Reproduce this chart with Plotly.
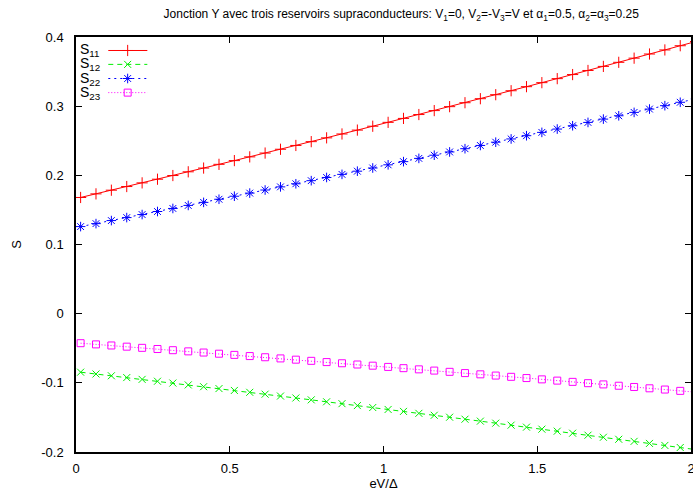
import numpy as np
import plotly.graph_objects as go

# eV/Delta sampling (last point lies just past the frame and is clipped)
x_vals = np.round(0.015 + 0.05 * np.arange(41), 3)

s11 = [0.1680, 0.1732, 0.1785, 0.1838, 0.1891, 0.1944, 0.1997, 0.2051, 0.2105, 0.2159,
       0.2213, 0.2267, 0.2322, 0.2377, 0.2432, 0.2487, 0.2542, 0.2598, 0.2654, 0.2710,
       0.2766, 0.2823, 0.2879, 0.2936, 0.2993, 0.3050, 0.3108, 0.3166, 0.3223, 0.3282,
       0.3340, 0.3398, 0.3457, 0.3516, 0.3575, 0.3634, 0.3694, 0.3754, 0.3813, 0.3874,
       0.3934]
s12 = [-0.0846, -0.0872, -0.0898, -0.0924, -0.0950, -0.0977, -0.1003, -0.1030, -0.1056, -0.1083,
       -0.1110, -0.1137, -0.1164, -0.1191, -0.1219, -0.1246, -0.1274, -0.1301, -0.1329, -0.1357,
       -0.1385, -0.1413, -0.1441, -0.1469, -0.1497, -0.1526, -0.1554, -0.1583, -0.1612, -0.1641,
       -0.1670, -0.1699, -0.1728, -0.1757, -0.1787, -0.1816, -0.1846, -0.1876, -0.1905, -0.1935,
       -0.1965]
s22 = [0.1259, 0.1302, 0.1346, 0.1389, 0.1433, 0.1477, 0.1521, 0.1565, 0.1609, 0.1654,
       0.1698, 0.1743, 0.1788, 0.1833, 0.1878, 0.1923, 0.1969, 0.2014, 0.2060, 0.2106,
       0.2152, 0.2198, 0.2245, 0.2291, 0.2338, 0.2385, 0.2432, 0.2479, 0.2526, 0.2573,
       0.2621, 0.2669, 0.2717, 0.2765, 0.2813, 0.2861, 0.2910, 0.2958, 0.3007, 0.3056,
       0.3105]
s23 = [-0.0427, -0.0444, -0.0460, -0.0477, -0.0494, -0.0511, -0.0528, -0.0545, -0.0562, -0.0579,
       -0.0596, -0.0613, -0.0630, -0.0647, -0.0665, -0.0682, -0.0700, -0.0717, -0.0735, -0.0752,
       -0.0770, -0.0788, -0.0805, -0.0823, -0.0841, -0.0859, -0.0877, -0.0895, -0.0913, -0.0931,
       -0.0950, -0.0968, -0.0986, -0.1005, -0.1023, -0.1042, -0.1060, -0.1079, -0.1097, -0.1116,
       -0.1135]

names = ["S<sub>11</sub>", "S<sub>12</sub>", "S<sub>22</sub>", "S<sub>23</sub>"]
series = [s11, s12, s22, s23]

x_ticks = [0, 0.5, 1, 1.5, 2]
x_ticktext = ["0", "0.5", "1", "1.5", "2"]
y_ticks = [-0.2, -0.1, 0, 0.1, 0.2, 0.3, 0.4]
y_ticktext = ["-0.2", "-0.1", "0", "0.1", "0.2", "0.3", "0.4"]

# gnuplot-like styles: colour, dash, marker
styles = [
    dict(color="#ff0000", dash="solid", symbol="cross-thin-open", size=8),
    dict(color="#00ee00", dash="5px,4px", symbol="x-thin-open", size=7),
    dict(color="#0000ff", dash="2px,4px", symbol="asterisk-open", size=8),
    dict(color="#ff00ff", dash="1px,2px", symbol="square-open", size=7),
]

fig = go.Figure()

for name, ys, st in zip(names, series, styles):
    fig.add_trace(go.Scatter(
        x=x_vals, y=ys, mode="lines+markers", name=name, showlegend=False,
        line=dict(color=st["color"], width=1, dash=st["dash"]),
        marker=dict(symbol=st["symbol"], size=st["size"], color=st["color"],
                    line=dict(color=st["color"], width=1)),
    ))

# gnuplot style key: label on the left, sample on the right
row_y = [0.9675, 0.934, 0.900, 0.866]
for name, st, ry in zip(names, styles, row_y):
    fig.add_trace(go.Scatter(
        x=[0.0525, 0.116], y=[ry, ry], mode="lines", xaxis="x2", yaxis="y2",
        showlegend=False, hoverinfo="skip",
        line=dict(color=st["color"], width=1, dash=st["dash"]),
    ))
    fig.add_trace(go.Scatter(
        x=[0.084], y=[ry], mode="markers", xaxis="x2", yaxis="y2",
        showlegend=False, hoverinfo="skip",
        marker=dict(symbol=st["symbol"], size=st["size"], color=st["color"],
                    line=dict(color=st["color"], width=1)),
    ))
    fig.add_annotation(x=0.003, y=ry, xref="x2", yref="y2", text=name,
                       showarrow=False, xanchor="left", yanchor="middle",
                       font=dict(size=14, color="black"))

axis_common = dict(
    showline=True, linecolor="black", linewidth=1.5, mirror="ticks",
    ticks="inside", ticklen=6, tickwidth=1, tickcolor="black",
    showgrid=False, zeroline=False, automargin=False,
    ticklabeloverflow="allow",
    tickfont=dict(size=13, color="black"),
)

fig.update_layout(
    width=693, height=494,
    margin=dict(l=76, r=2, t=37, b=42),
    paper_bgcolor="white", plot_bgcolor="white",
    font=dict(family="Liberation Sans, Arial, sans-serif", color="black"),
    title=dict(
        text="Jonction Y avec trois reservoirs supraconducteurs: V<sub>1</sub>=0, "
             "V<sub>2</sub>=-V<sub>3</sub>=V et α<sub>1</sub>=0.5, α<sub>2</sub>=α<sub>3</sub>=0.25",
        x=0.579, xanchor="center", y=0.972, yanchor="middle",
        font=dict(size=12, color="black"),
    ),
    xaxis=dict(range=[0, 2], tickvals=x_ticks, ticktext=x_ticktext,
               title=dict(text="eV/Δ", font=dict(size=13), standoff=2),
               ticklabelstandoff=4, **axis_common),
    yaxis=dict(range=[-0.2, 0.4], tickvals=y_ticks, ticktext=y_ticktext,
               title=dict(text="S", font=dict(size=13), standoff=17),
               ticklabelstandoff=8, **axis_common),
    xaxis2=dict(overlaying="x", range=[0, 1], visible=False),
    yaxis2=dict(overlaying="y", range=[0, 1], visible=False),
)

# drop the default page margin so the figure sits at the window's corner
fig.write_html("out.html", config={"displayModeBar": False},
               post_script="document.body.style.margin='0';")
